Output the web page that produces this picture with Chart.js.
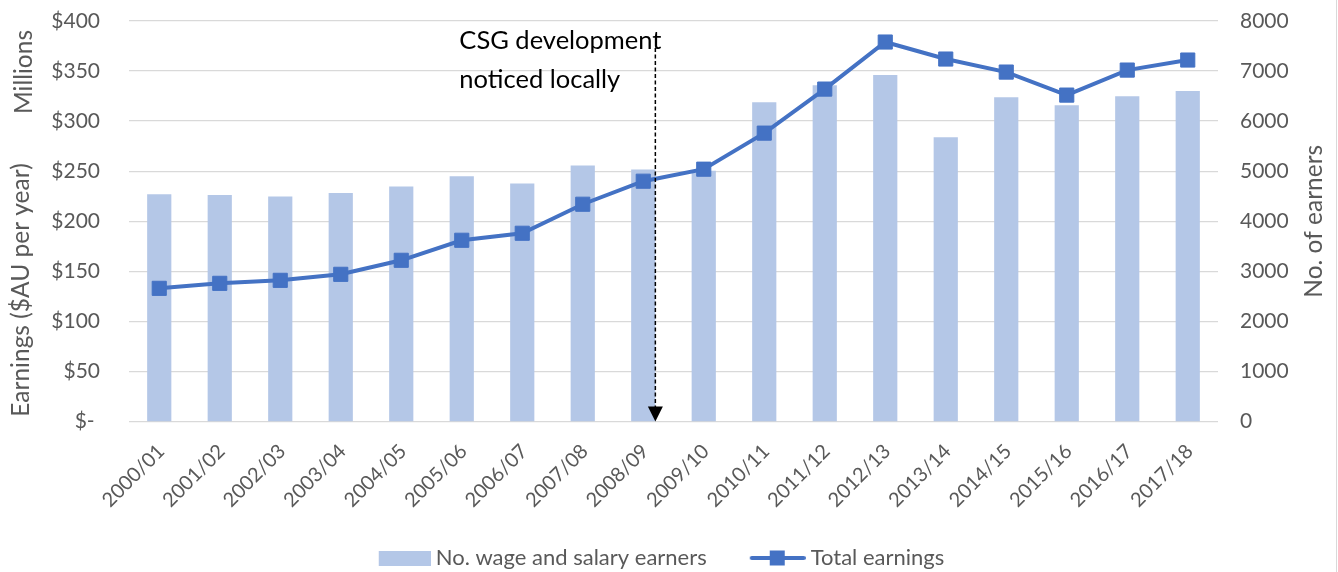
<!DOCTYPE html>
<html>
<head>
<meta charset="utf-8">
<script src="https://cdn.jsdelivr.net/npm/chart.js@4.4.1/dist/chart.umd.min.js"></script>
<style>
  body { margin: 0; background: #fff; }
  canvas { display: block; }
</style>
</head>
<body>
<canvas id="chart" width="1338" height="572"></canvas>
<script>
// Data
const years = ["2000/01", "2001/02", "2002/03", "2003/04", "2004/05", "2005/06", "2006/07", "2007/08", "2008/09",
    "2009/10", "2010/11", "2011/12", "2012/13", "2013/14", "2014/15", "2015/16", "2016/17", "2017/18"];
const earners = [4540, 4525, 4495, 4565, 4695, 4900, 4755, 5115, 5035, 5010, 6375, 6715, 6920, 5680, 6475, 6315, 6495, 6600];
const earnings = [133, 138, 141, 147, 161, 181, 188, 217, 240, 252, 288, 332, 379, 362, 349, 326, 351, 361];
const earningsTicks = [0, 50, 100, 150, 200, 250, 300, 350, 400];
const earnerTicks = [0, 1000, 2000, 3000, 4000, 5000, 6000, 7000, 8000];

const BAR_COLOR = "#b4c7e7";
const LINE_COLOR = "#4472c4";
const TEXT_COLOR = "#595959";
const GRID_COLOR = "#d9d9d9";
const FONT = "Lato, 'Noto Sans', sans-serif";

Chart.defaults.font.family = FONT;
Chart.defaults.font.size = 21;
Chart.defaults.color = TEXT_COLOR;

// Legend swatches (transparent on the left so items sit apart like the reference)
const SWATCH_W = 95;
function barSwatch() {
    const c = document.createElement("canvas");
    c.width = SWATCH_W; c.height = 15;
    const g = c.getContext("2d");
    g.fillStyle = BAR_COLOR;
    g.fillRect(SWATCH_W - 52, 0, 52, 15);
    return c;
}
function lineSwatch() {
    const c = document.createElement("canvas");
    c.width = SWATCH_W; c.height = 16;
    const g = c.getContext("2d");
    g.strokeStyle = LINE_COLOR;
    g.lineWidth = 4;
    g.lineCap = "round";
    g.beginPath();
    g.moveTo(SWATCH_W - 54, 8);
    g.lineTo(SWATCH_W - 2, 8);
    g.stroke();
    g.fillStyle = LINE_COLOR;
    g.fillRect(SWATCH_W - 36, 0.5, 15, 15);
    return c;
}

// vertical scales: fixed width, and no extra top/bottom padding from the tick labels
function fixVertical(width) {
    return s => {
        s.width = width;
        s.paddingTop = 0;
        s.paddingBottom = 0;
    };
}

// Axis titles, annotation and frame
const extras = {
    id: "extras",
    afterLayout(chart) {
        chart.legend.top += 7;
        chart.legend.bottom += 7;
        chart.legend.left -= 26;
        chart.legend.right -= 26;
    },
    afterDatasetsDraw(chart) {
        const ctx = chart.ctx;
        const x = chart.scales.x;
        const y = chart.scales.y;
        const step = x.getPixelForValue(1) - x.getPixelForValue(0);
        const ax = x.getPixelForValue(8) + step * 0.2;
        const top = y.getPixelForValue(373);
        const bottom = y.getPixelForValue(0);

        ctx.save();
        ctx.strokeStyle = "#000";
        ctx.lineWidth = 1.5;
        ctx.setLineDash([4, 2.5]);
        ctx.beginPath();
        ctx.moveTo(ax, top);
        ctx.lineTo(ax, bottom - 12);
        ctx.stroke();
        ctx.setLineDash([]);
        ctx.fillStyle = "#000";
        ctx.beginPath();
        ctx.moveTo(ax - 7.5, bottom - 15);
        ctx.lineTo(ax + 7.5, bottom - 15);
        ctx.lineTo(ax, bottom);
        ctx.closePath();
        ctx.fill();

        ctx.font = "25.5px " + FONT;
        ctx.textAlign = "left";
        ctx.textBaseline = "middle";
        const tx = ax - 196;
        ctx.fillText("CSG development", tx, y.getPixelForValue(380));
        ctx.fillText("noticed locally", tx, y.getPixelForValue(341));
        ctx.restore();
    },
    afterDraw(chart) {
        const ctx = chart.ctx;
        const area = chart.chartArea;
        ctx.save();
        ctx.fillStyle = TEXT_COLOR;
        ctx.font = "24.5px " + FONT;
        ctx.textAlign = "center";
        ctx.textBaseline = "middle";
        const vtext = (t, cx, cy) => {
            ctx.save();
            ctx.translate(cx, cy);
            ctx.rotate(-Math.PI / 2);
            ctx.fillText(t, 0, 0);
            ctx.restore();
        };
        vtext("Millions", 24, 72);
        vtext("Earnings ($AU per year)", 21, 290);
        vtext("No. of earners", 1314, (area.top + area.bottom) / 2);

        ctx.strokeStyle = GRID_COLOR;
        ctx.lineWidth = 1;
        ctx.beginPath();
        ctx.moveTo(chart.width - 1.5, 0);
        ctx.lineTo(chart.width - 1.5, chart.height);
        ctx.stroke();
        ctx.restore();
    }
};

new Chart(document.getElementById("chart"), {
    type: "bar",
    data: {
        labels: years,
        datasets: [
            {
                type: "line",
                label: "Total earnings",
                data: earnings,
                yAxisID: "y",
                borderColor: LINE_COLOR,
                backgroundColor: LINE_COLOR,
                borderWidth: 4,
                pointStyle: "rect",
                pointRadius: 10,
                pointHoverRadius: 10,
                pointBorderWidth: 1,
                pointBorderColor: LINE_COLOR,
                pointBackgroundColor: LINE_COLOR,
                tension: 0,
                order: 0
            },
            {
                type: "bar",
                label: "No. wage and salary earners",
                data: earners,
                yAxisID: "y1",
                backgroundColor: BAR_COLOR,
                barPercentage: 0.4,
                categoryPercentage: 1,
                order: 1
            }
        ]
    },
    options: {
        responsive: false,
        animation: false,
        layout: { padding: { top: 21, left: 0, right: 0, bottom: 0 } },
        plugins: {
            tooltip: { enabled: false },
            legend: {
                position: "bottom",
                labels: {
                    usePointStyle: true,
                    pointStyleWidth: 83,
                    padding: 10,
                    color: TEXT_COLOR,
                    font: { size: 22 },
                    generateLabels: () => [
                        { text: "No. wage and salary earners", pointStyle: barSwatch(), fillStyle: BAR_COLOR, strokeStyle: BAR_COLOR, lineWidth: 0, hidden: false, datasetIndex: 1, fontColor: TEXT_COLOR },
                        { text: "Total earnings", pointStyle: lineSwatch(), fillStyle: LINE_COLOR, strokeStyle: LINE_COLOR, lineWidth: 0, hidden: false, datasetIndex: 0, fontColor: TEXT_COLOR }
                    ]
                }
            }
        },
        scales: {
            x: {
                offset: true,
                grid: { display: false, drawTicks: false },
                border: { display: false },
                ticks: { minRotation: 45, maxRotation: 45, autoSkip: false, padding: 18, labelOffset: 2, color: TEXT_COLOR, font: { size: 20 } },
                afterFit: s => { s.height = 108.5; }
            },
            y: {
                position: "left",
                min: 0,
                max: 400,
                afterBuildTicks: s => { s.ticks = earningsTicks.map(v => ({ value: v })); },
                ticks: {
                    padding: 29,
                    color: TEXT_COLOR,
                    callback: v => v === 0 ? "$- " : "$" + v
                },
                grid: { color: GRID_COLOR, lineWidth: 1.3, drawTicks: false },
                border: { display: false },
                afterFit: fixVertical(129)
            },
            y1: {
                position: "right",
                min: 0,
                max: 8000,
                afterBuildTicks: s => { s.ticks = earnerTicks.map(v => ({ value: v })); },
                ticks: { padding: 22, color: TEXT_COLOR, callback: v => String(v) },
                grid: { display: false, drawTicks: false },
                border: { display: false },
                afterFit: fixVertical(120)
            }
        }
    },
    plugins: [extras]
});
</script>
</body>
</html>
